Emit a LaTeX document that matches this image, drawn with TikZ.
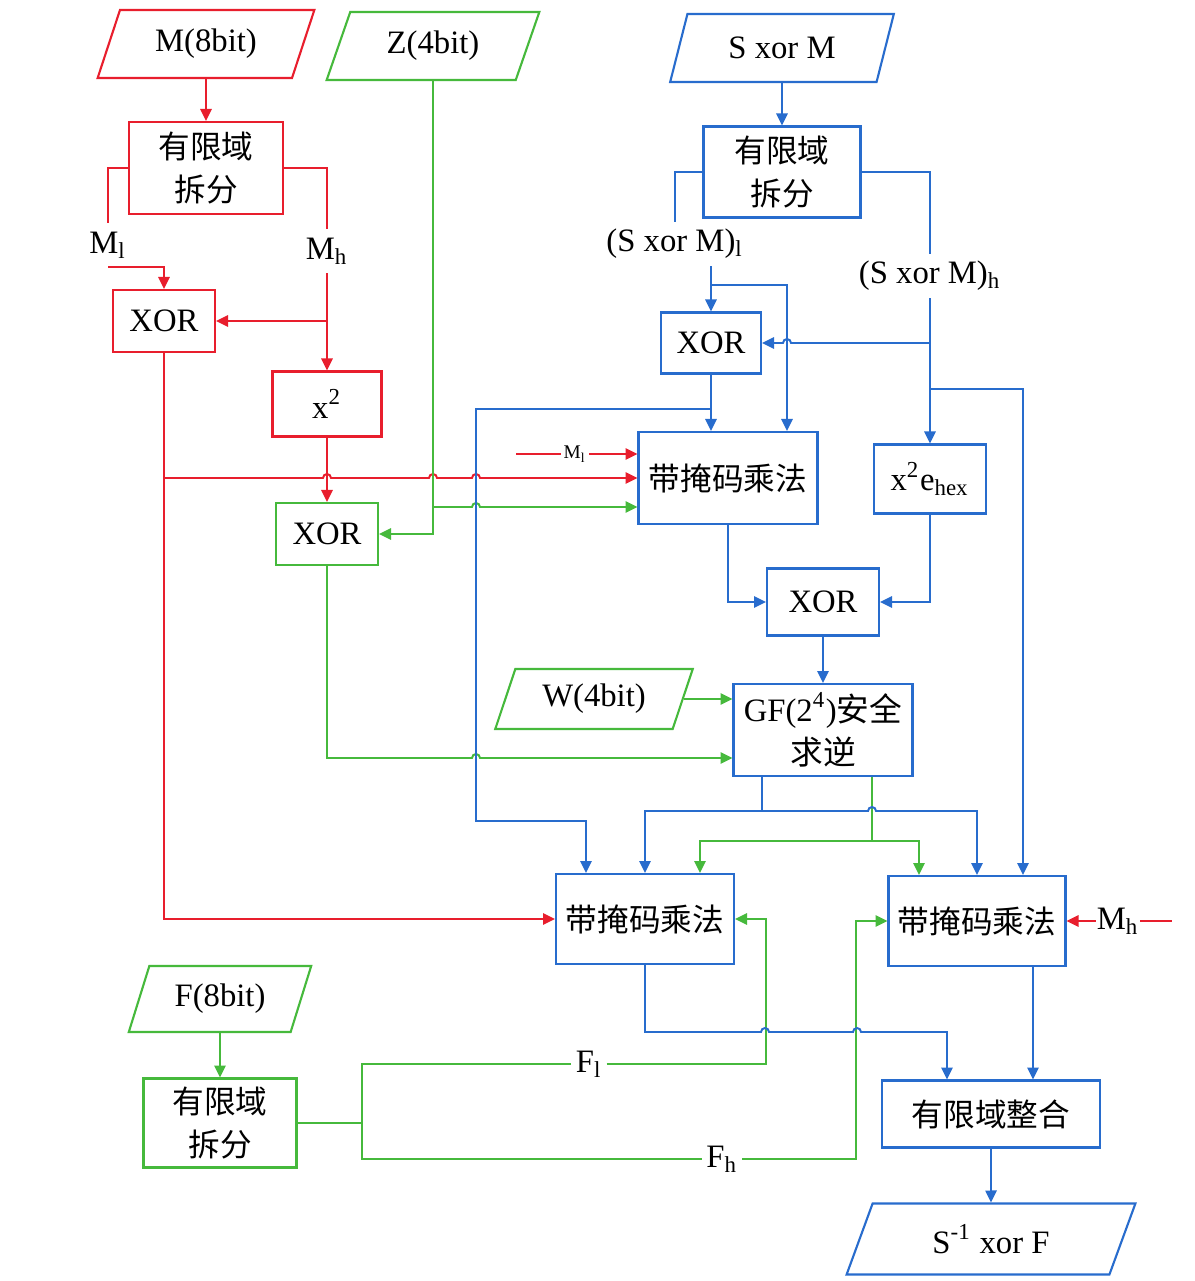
\documentclass[tikz,border=0pt]{standalone}
\usepackage{fontspec}
\setmainfont{Liberation Serif}
\newfontfamily\cjk{Noto Sans CJK SC}
\usetikzlibrary{shapes.geometric,arrows.meta,calc}

\definecolor{cred}{RGB}{232,30,45}
\definecolor{cgreen}{RGB}{70,185,60}
\definecolor{cblue}{RGB}{40,108,205}

\tikzset{
  box/.style={draw,line width=0.6pt,inner sep=0pt,align=center},
  io/.style={trapezium,trapezium left angle=66,trapezium right angle=114,
    trapezium stretches=true,draw,line width=0.6pt,inner sep=0pt,minimum height=6.8mm},
  zh/.style={font=\cjk\fontsize{9pt}{12.3pt}\selectfont},
  lbl/.style={inner sep=0pt,minimum height=4.3mm},
  tag/.style={inner sep=1pt},
  smalltag/.style={inner sep=0.6pt,font=\fontsize{5.5pt}{6pt}\selectfont},
}

\begin{document}
\begin{tikzpicture}[x=0.1mm,y=-0.1mm,line width=0.55pt,
  font=\fontsize{9.3pt}{12.3pt}\selectfont,
  >={Triangle[length=3.4pt,width=3.2pt]}]
\fill[white] (0,0) rectangle (1195,1281);
\useasboundingbox (0,0) rectangle (1195,1281);

% inputs / output
\node[io,draw=cred,minimum width=21.7mm] (inM) at (206,44) {M(8bit)};
\node[io,draw=cgreen,minimum width=21.3mm] (inZ) at (433,46) {Z(4bit)};
\node[io,draw=cblue,minimum width=22.4mm] (inS) at (782,48) {S xor M};
\node[io,draw=cgreen,minimum width=19.8mm,minimum height=6mm] (inW) at (594,699) {W(4bit)};
\node[io,draw=cgreen,minimum width=18.3mm,minimum height=6.6mm] (inF) at (220,999) {F(8bit)};
\node[io,draw=cblue,minimum width=28.9mm,minimum height=7.1mm] (outS) at (991,1239) {S\textsuperscript{-1} xor F};

% left column (M)
\node[box,zh,draw=cred,minimum width=15.4mm,minimum height=9.2mm] (splitM) at (206,168) {有限域\\拆分};
\node[box,draw=cred,minimum width=10.2mm,minimum height=6.2mm] (xorM) at (164,321) {XOR};
\node[box,draw=cred,minimum width=10.9mm,minimum height=6.5mm] (sq) at (327,404) {x\textsuperscript{2}};
\node[box,draw=cgreen,minimum width=10.2mm,minimum height=6.2mm] (xorZ) at (327,534) {XOR};

% right column (S xor M)
\node[box,zh,draw=cblue,minimum width=15.7mm,minimum height=9.1mm] (splitS) at (782,172) {有限域\\拆分};
\node[box,draw=cblue,minimum width=10mm,minimum height=6.1mm] (xorS) at (711,343) {XOR};
\node[box,zh,draw=cblue,minimum width=17.9mm,minimum height=9.2mm] (mul1) at (728,478) {带掩码乘法};
\node[box,draw=cblue,minimum width=11.2mm,minimum height=6.9mm] (sqe) at (930,479) {x\textsuperscript{2}e\textsubscript{hex}};
\node[box,draw=cblue,minimum width=11.2mm,minimum height=6.7mm] (xor3) at (823,602) {XOR};
\node[box,draw=cblue,minimum width=17.9mm,minimum height=9.2mm] (inv) at (823,730) {GF(2\textsuperscript{4}){\cjk 安全}\\{\cjk 求逆}};
\node[box,zh,draw=cblue,minimum width=17.8mm,minimum height=9mm] (mul2) at (645,919) {带掩码乘法};
\node[box,zh,draw=cblue,minimum width=17.7mm,minimum height=9mm] (mul3) at (977,921) {带掩码乘法};
\node[box,zh,draw=cgreen,minimum width=15.3mm,minimum height=8.9mm] (splitF) at (220,1123) {有限域\\拆分};
\node[box,zh,draw=cblue,minimum width=21.8mm,minimum height=6.7mm] (merge) at (991,1114) {有限域整合};

% labels on the lines
\node[lbl] (Ml) at (108,245) {M\textsubscript{l}};
\node[lbl] (Mh) at (327,251) {M\textsubscript{h}};
\node[lbl] (Sl) at (675,244) {(S xor M)\textsubscript{l}};
\node[lbl] (Sh) at (930,276) {(S xor M)\textsubscript{h}};
\node[smalltag] (Ml2) at (575,454) {M\textsubscript{l}};
\node[lbl] (Mh2) at (1118,921) {M\textsubscript{h}};
\node[tag] (Fl) at (589,1064) {F\textsubscript{l}};
\node[tag] (Fh) at (722,1159) {F\textsubscript{h}};

\coordinate (mlfree) at (516,454);
\coordinate (mhfree) at (1172,921);
\coordinate (ffork) at (362,1123);
\coordinate (gsplit) at (872,841);
\coordinate (bsplit) at (762,811);

% red
\draw[cred,->] (inM.south) -- (splitM.north);
\draw[cred] (splitM.west) -| (Ml.north);
\draw[cred,->] (Ml.south) -| (xorM.north);
\draw[cred] (splitM.east) -| (Mh.north);
\draw[cred,->] (Mh.south) -- (sq.north);
\draw[cred,->] (Mh.south |- xorM.east) -- (xorM.east);
\draw[cred,->] (sq.south) -- (xorZ.north);
\draw[cred,->] (xorM.south) |- (mul2.west);
\draw[cred,->] (xorM.south |- mul1.west) -- (323,478) arc (180:0:0.4mm) -- (429,478) arc (180:0:0.4mm)
  -- (472,478) arc (180:0:0.4mm) -- (mul1.west);
\draw[cred] (mlfree) -- (Ml2.west);
\draw[cred,->] (Ml2.east) -- (Ml2.east -| mul1.west);
\draw[cred,->] (Mh2.west) -- (mul3.east);
\draw[cred] (Mh2.east) -- (mhfree);

% green
\draw[cgreen,->] (inZ.south) |- (xorZ.east);
\draw[cgreen,->] (inZ.south |- 0,507) -- (472,507) arc (180:0:0.4mm) -- ([yshift=-2.9mm]mul1.west);
\draw[cgreen,->] (xorZ.south) |- (472,758) arc (180:0:0.4mm) -- ([yshift=-2.8mm]inv.west);
\draw[cgreen,->] (inW.east) -- (inW.east -| inv.west);
\draw[cgreen] ([xshift=4.9mm]inv.south) -- (gsplit);
\draw[cgreen,->] (gsplit) -| ([xshift=5.5mm]mul2.north);
\draw[cgreen,->] (gsplit) -| ([xshift=-5.8mm]mul3.north);
\draw[cgreen,->] (inF.south) -- (splitF.north);
\draw[cgreen] (splitF.east) -- (ffork);
\draw[cgreen] (ffork) |- (Fl.west);
\draw[cgreen] (ffork) |- (Fh.west);
\draw[cgreen,->] (Fl.east) -| ([xshift=3.1mm]mul2.east) -- (mul2.east);
\draw[cgreen,->] (Fh.east) -| ([xshift=-3.1mm]mul3.west) -- (mul3.west);

% blue
\draw[cblue,->] (inS.south) -- (splitS.north);
\draw[cblue] (splitS.west) -| (Sl.north);
\draw[cblue,->] (Sl.south -| xorS.north) -- (xorS.north);
\draw[cblue,->] (xorS.north |- 0,285) -| ([xshift=5.9mm]mul1.north);
\draw[cblue] (splitS.east) -| (Sh.north);
\draw[cblue,->] (Sh.south) -- (sqe.north);
\draw[cblue,->] (Sh.south |- xorS.east) -- (791,343) arc (0:180:0.4mm) -- (xorS.east);
\draw[cblue,->] (Sh.south |- 0,389) -| ([xshift=4.6mm]mul3.north);
\draw[cblue,->] (xorS.south) -- (xorS.south |- mul1.north);
\draw[cblue,->] (xorS.south |- 0,409) -| (476,821) -| ([xshift=-5.9mm]mul2.north);
\draw[cblue,->] (mul1.south) |- (xor3.west);
\draw[cblue,->] (sqe.south) |- (xor3.east);
\draw[cblue,->] (xor3.south) -- (inv.north);
\draw[cblue] ([xshift=-6.1mm]inv.south) -- (bsplit);
\draw[cblue,->] (bsplit) -| (mul2.north);
\draw[cblue,->] (bsplit) -- (868,811) arc (180:0:0.4mm) -| (mul3.north);
\draw[cblue,->] (mul2.south) |- (761,1032) arc (180:0:0.4mm) -- (853,1032) arc (180:0:0.4mm)
  -| ([xshift=-4.4mm]merge.north);
\draw[cblue,->] ([xshift=5.6mm]mul3.south) -- ([xshift=4.2mm]merge.north);
\draw[cblue,->] (merge.south) -- (outS.north);

\end{tikzpicture}
\end{document}
